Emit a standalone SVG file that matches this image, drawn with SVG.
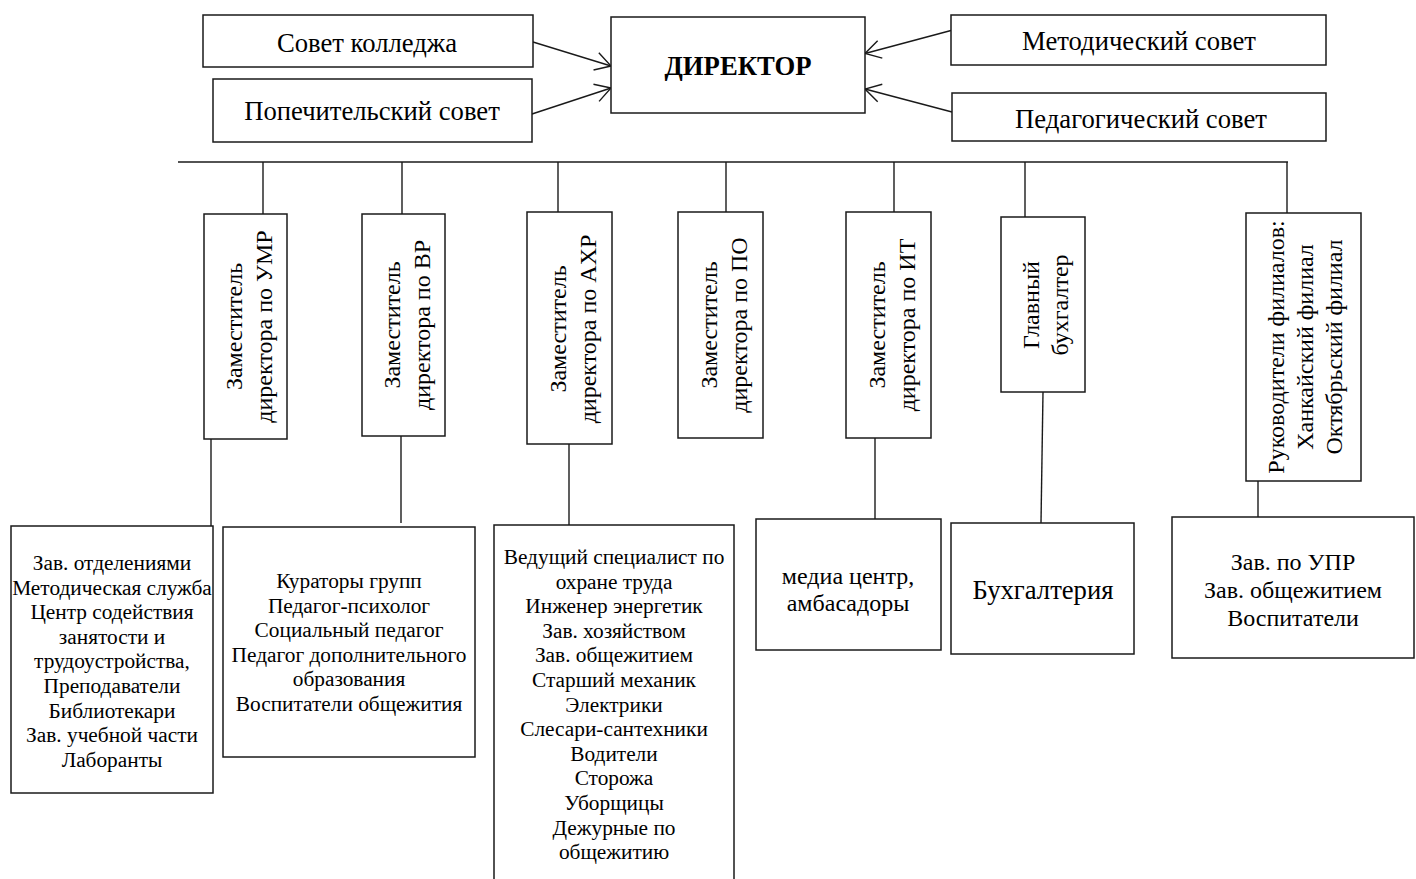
<svg xmlns="http://www.w3.org/2000/svg" width="1416" height="879" viewBox="0 0 1416 879">
<style>
.box{fill:#fff;stroke:#1a1a1a;stroke-width:1.5}
.ln{stroke:#1a1a1a;stroke-width:1.4;fill:none}
.t{font-family:"Liberation Serif","Times New Roman",serif;fill:#000;text-anchor:middle}
.f27{font-size:26.67px}
.f24{font-size:24px}
.f21{font-size:21.33px}
.b{font-weight:bold}
</style>
<defs>
<marker id="arr" markerUnits="userSpaceOnUse" markerWidth="22" markerHeight="22" refX="18.5" refY="11" orient="auto">
<path d="M3,2 L18.5,11 L3,20" fill="none" stroke="#1a1a1a" stroke-width="1.4"/>
</marker>
</defs>
<rect width="1416" height="879" fill="#fff"/>
<g id="connectors">
<line class="ln" x1="533" y1="42" x2="611" y2="66" marker-end="url(#arr)"/>
<line class="ln" x1="532" y1="114" x2="611" y2="88" marker-end="url(#arr)"/>
<line class="ln" x1="951" y1="30.5" x2="865" y2="53.5" marker-end="url(#arr)"/>
<line class="ln" x1="952" y1="112" x2="865" y2="89" marker-end="url(#arr)"/>
<line class="ln" x1="178" y1="162" x2="1288" y2="162"/>
<line class="ln" x1="263" y1="162" x2="263" y2="214"/>
<line class="ln" x1="402" y1="162" x2="402" y2="214"/>
<line class="ln" x1="558" y1="162" x2="558" y2="212"/>
<line class="ln" x1="726" y1="162" x2="726" y2="212"/>
<line class="ln" x1="894" y1="162" x2="894" y2="212"/>
<line class="ln" x1="1025" y1="162" x2="1025" y2="217"/>
<line class="ln" x1="1287" y1="162" x2="1287" y2="213"/>
<line class="ln" x1="211" y1="439" x2="211" y2="526"/>
<line class="ln" x1="401" y1="436" x2="401" y2="523"/>
<line class="ln" x1="569" y1="444" x2="569" y2="525"/>
<line class="ln" x1="875" y1="438" x2="875" y2="519"/>
<line class="ln" x1="1043" y1="392" x2="1041" y2="523"/>
<line class="ln" x1="1258" y1="481" x2="1258" y2="517"/>
</g>
<g id="sovet-kolledzha">
<rect class="box" x="203" y="15" width="330" height="52"/>
<text class="t f27" x="367" y="52">Совет колледжа</text>
</g>
<g id="popechitelskiy">
<rect class="box" x="213" y="79" width="319" height="63"/>
<text class="t f27" x="372" y="120">Попечительский совет</text>
</g>
<g id="direktor">
<rect class="box" x="611" y="17" width="254" height="96"/>
<text class="t f27 b" x="738" y="75">ДИРЕКТОР</text>
</g>
<g id="metodicheskiy">
<rect class="box" x="951" y="15" width="375" height="50"/>
<text class="t f27" x="1139" y="50">Методический совет</text>
</g>
<g id="pedagogicheskiy">
<rect class="box" x="952" y="93" width="374" height="48"/>
<text class="t f27" x="1141" y="128">Педагогический совет</text>
</g>
<g id="zam-umr">
<rect class="box" x="204" y="214" width="83" height="225"/>
<text class="t f24" transform="translate(245.5,326.5) rotate(-90)"><tspan x="0" y="-4">Заместитель</tspan><tspan x="0" y="26">директора по УМР</tspan></text>
</g>
<g id="zam-vr">
<rect class="box" x="362" y="214" width="83" height="222"/>
<text class="t f24" transform="translate(403.5,325) rotate(-90)"><tspan x="0" y="-4">Заместитель</tspan><tspan x="0" y="26">директора по ВР</tspan></text>
</g>
<g id="zam-ahr">
<rect class="box" x="527" y="212" width="85" height="232"/>
<text class="t f24" transform="translate(569.5,329) rotate(-90)"><tspan x="0" y="-4">Заместитель</tspan><tspan x="0" y="26">директора по АХР</tspan></text>
</g>
<g id="zam-po">
<rect class="box" x="678" y="212" width="85" height="226"/>
<text class="t f24" transform="translate(720.5,325) rotate(-90)"><tspan x="0" y="-4">Заместитель</tspan><tspan x="0" y="26">директора по ПО</tspan></text>
</g>
<g id="zam-it">
<rect class="box" x="846" y="212" width="85" height="226"/>
<text class="t f24" transform="translate(888.5,325) rotate(-90)"><tspan x="0" y="-4">Заместитель</tspan><tspan x="0" y="26">директора по ИТ</tspan></text>
</g>
<g id="glavbuh">
<rect class="box" x="1001" y="217" width="84" height="175"/>
<text class="t f24" transform="translate(1043,305) rotate(-90)"><tspan x="0" y="-4">Главный</tspan><tspan x="0" y="25">бухгалтер</tspan></text>
</g>
<g id="rukovoditeli">
<rect class="box" x="1246" y="213" width="115" height="268"/>
<text class="t f24" transform="translate(1303.5,347) rotate(-90)"><tspan x="0" y="-20">Руководители филиалов:</tspan><tspan x="0" y="9">Ханкайский филиал</tspan><tspan x="0" y="38">Октябрьский филиал</tspan></text>
</g>
<g id="umr-staff">
<rect class="box" x="11" y="526" width="202" height="267"/>
<text class="t f21"><tspan x="112" y="570">Зав. отделениями</tspan><tspan x="112" y="594.6">Методическая служба</tspan><tspan x="112" y="619.2">Центр содействия</tspan><tspan x="112" y="643.8">занятости и</tspan><tspan x="112" y="668.4">трудоустройства,</tspan><tspan x="112" y="693">Преподаватели</tspan><tspan x="112" y="717.6">Библиотекари</tspan><tspan x="112" y="742.2">Зав. учебной части</tspan><tspan x="112" y="766.8">Лаборанты</tspan></text>
</g>
<g id="vr-staff">
<rect class="box" x="223" y="527" width="252" height="230"/>
<text class="t f21"><tspan x="349" y="588">Кураторы групп</tspan><tspan x="349" y="612.6">Педагог-психолог</tspan><tspan x="349" y="637.2">Социальный педагог</tspan><tspan x="349" y="661.8">Педагог дополнительного</tspan><tspan x="349" y="686.4">образования</tspan><tspan x="349" y="711">Воспитатели общежития</tspan></text>
</g>
<g id="ahr-staff">
<rect class="box" x="494" y="525" width="240" height="370"/>
<text class="t f21"><tspan x="614" y="564">Ведущий специалист по</tspan><tspan x="614" y="588.6">охране труда</tspan><tspan x="614" y="613.2">Инженер энергетик</tspan><tspan x="614" y="637.8">Зав. хозяйством</tspan><tspan x="614" y="662.4">Зав. общежитием</tspan><tspan x="614" y="687">Старший механик</tspan><tspan x="614" y="711.6">Электрики</tspan><tspan x="614" y="736.2">Слесари-сантехники</tspan><tspan x="614" y="760.8">Водители</tspan><tspan x="614" y="785.4">Сторожа</tspan><tspan x="614" y="810">Уборщицы</tspan><tspan x="614" y="834.6">Дежурные по</tspan><tspan x="614" y="859.2">общежитию</tspan></text>
</g>
<g id="it-staff">
<rect class="box" x="756" y="519" width="185" height="131"/>
<text class="t f24"><tspan x="848" y="584">медиа центр,</tspan><tspan x="848" y="611">амбасадоры</tspan></text>
</g>
<g id="buhgalteriya">
<rect class="box" x="951" y="523" width="183" height="131"/>
<text class="t f27" x="1043" y="599">Бухгалтерия</text>
</g>
<g id="filial-staff">
<rect class="box" x="1172" y="517" width="242" height="141"/>
<text class="t f24"><tspan x="1293" y="570">Зав. по УПР</tspan><tspan x="1293" y="598">Зав. общежитием</tspan><tspan x="1293" y="626">Воспитатели</tspan></text>
</g>
</svg>
